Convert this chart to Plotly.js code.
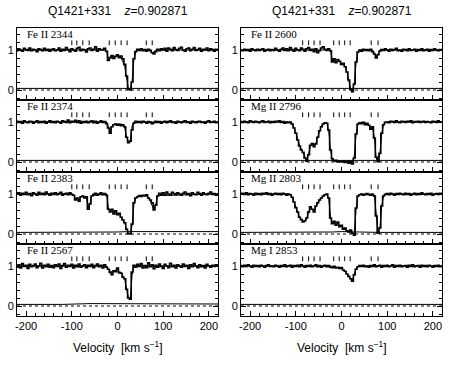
<!DOCTYPE html>
<html><head><meta charset="utf-8">
<script src="https://cdn.plot.ly/plotly-3.0.1.min.js"></script>
<style>body{margin:0;background:#fff}#chart{width:462px;height:373px}</style>
</head><body><div id="chart"></div>
<script>
// ---------------- data ----------------
const velocity = [
-220,-216,-212,-208,-204,-200,-196,-192,-188,-184,
-180,-176,-172,-168,-164,-160,-156,-152,-148,-144,
-140,-136,-132,-128,-124,-120,-116,-112,-108,-104,
-100,-96,-92,-88,-84,-80,-76,-72,-68,-64,
-60,-56,-52,-48,-44,-40,-36,-32,-28,-24,
-20,-16,-12,-8,-4,0,4,8,12,16,
20,24,28,32,36,40,44,48,52,56,
60,64,68,72,76,80,84,88,92,96,
100,104,108,112,116,120,124,128,132,136,
140,144,148,152,156,160,164,168,172,176,
180,184,188,192,196,200,204,208,212,216,220];

const panelLabels = ["Fe II 2344","Fe II 2374","Fe II 2383","Fe II 2567","Fe II 2600","Mg II 2796","Mg II 2803","Mg I 2853"];
const columnTitle = "Q1421+331";
const redshift = "0.902871";
const componentVelLeft = [-100,-89,-76,-62,-18,-5,8,21,63,76];
const componentVelRight = [-85,-72,-60,-47,-17,-5,7,19,65,80];
const xTickVals = [-200,-100,0,100,200];
const yTickVals = [0,1];

const fluxFeII2344 = [
0.98,1.03,1.00,0.97,1.04,1.01,0.99,1.05,0.98,1.02,
1.00,0.96,1.03,1.01,0.98,1.04,0.99,1.02,0.97,1.01,
1.03,0.98,1.00,1.05,0.97,1.02,0.99,1.06,1.01,0.96,
1.03,1.00,0.97,1.04,1.07,0.98,1.02,1.00,0.95,1.03,
1.05,0.99,1.02,1.08,0.97,1.03,1.00,1.01,1.04,0.97,
0.74,0.80,0.86,0.79,0.84,0.88,0.81,0.85,0.78,0.64,
0.35,0.02,0.00,0.20,0.78,0.96,1.02,0.99,1.03,0.98,
1.01,0.97,1.02,0.99,0.93,0.90,0.96,1.02,0.98,1.03,
1.00,1.04,0.97,1.05,1.02,0.98,1.06,1.01,0.99,1.04,
1.07,1.00,0.97,1.03,1.05,0.98,1.02,1.06,0.99,1.01,
1.04,0.97,1.02,1.00,1.05,0.98,1.03,1.01,0.97,1.02,1.00];
const fluxFeII2374 = [
1.02,0.99,1.01,0.97,1.03,1.00,0.98,1.02,1.01,0.97,
1.00,1.03,0.98,1.01,0.99,1.02,0.97,1.00,1.03,0.99,
1.01,0.98,1.02,1.00,0.97,1.03,1.01,0.99,1.05,0.98,
1.02,1.00,1.04,0.99,1.03,0.97,1.01,0.99,1.02,0.98,
1.01,1.03,0.98,1.02,0.97,1.00,1.03,0.99,1.01,0.96,
0.85,0.72,0.88,0.93,0.95,0.92,0.94,0.91,0.93,0.88,
0.62,0.48,0.52,0.80,0.97,1.02,0.99,1.01,0.98,1.02,
1.00,0.97,1.01,0.99,0.96,0.98,1.02,0.99,1.01,0.97,
1.00,1.02,0.98,1.01,1.03,0.99,1.00,0.97,1.02,1.00,
0.98,1.01,1.03,0.99,1.00,0.97,1.02,1.00,0.98,1.01,
1.02,0.99,1.00,0.97,1.01,1.03,0.99,1.00,1.02,0.98,1.00];
const fluxFeII2383 = [
1.00,1.03,0.97,1.02,0.99,1.04,0.98,1.01,0.96,1.03,
1.00,0.97,1.04,0.99,1.02,0.98,1.05,1.00,0.97,1.02,
0.99,1.03,0.98,1.01,1.04,0.97,1.00,1.02,0.98,1.03,
0.99,0.97,0.85,0.90,0.82,0.93,0.95,0.90,0.93,0.62,
0.75,0.95,0.99,1.02,0.97,1.00,1.03,0.98,1.01,0.97,
0.62,0.55,0.62,0.50,0.58,0.48,0.52,0.42,0.35,0.28,
0.12,0.01,0.00,0.25,0.78,0.90,0.93,0.96,0.94,0.97,
0.95,0.98,0.90,0.85,0.78,0.60,0.72,0.95,1.02,0.99,
1.03,0.98,1.05,1.00,0.97,1.04,1.01,0.98,1.03,1.00,
0.97,1.02,1.05,0.99,1.01,0.96,1.03,1.00,0.98,1.04,
1.01,0.97,1.03,1.00,0.98,1.02,1.05,0.99,1.01,0.97,1.00];
const fluxFeII2567 = [
0.97,1.03,0.95,1.06,0.99,1.02,0.94,1.04,0.98,1.01,
1.05,0.96,1.00,1.07,0.95,1.02,0.98,1.04,0.97,1.01,
0.96,1.03,0.99,1.05,0.94,1.01,1.06,0.97,1.02,0.99,
1.04,0.95,1.02,0.98,1.05,0.97,1.00,1.03,0.96,1.02,
0.99,1.04,0.96,1.01,1.05,0.98,1.02,0.95,1.03,0.97,
0.92,0.84,0.78,0.88,0.86,0.95,0.83,0.82,0.72,0.68,
0.42,0.20,0.17,0.85,1.02,0.97,1.04,0.99,1.06,0.95,
1.01,0.96,1.08,0.98,1.03,0.93,1.02,0.97,1.05,0.99,
0.94,1.04,1.00,0.96,1.07,0.98,1.02,0.95,1.03,1.00,
0.97,1.05,0.99,1.02,0.94,1.03,0.98,1.06,1.00,0.96,
1.03,0.98,1.01,0.95,1.04,1.00,0.97,1.02,0.99,1.03,1.00];
const fluxFeII2600 = [
1.00,0.98,1.02,0.99,1.01,0.97,1.03,1.00,0.98,1.02,
0.99,1.01,1.03,0.97,1.00,1.02,0.98,1.01,0.99,1.04,
1.00,0.97,1.02,1.05,0.99,1.03,0.98,1.06,1.01,0.97,
1.04,1.00,0.98,1.05,1.02,0.97,1.03,1.06,0.99,1.02,
0.96,1.03,0.93,0.98,1.05,1.08,1.02,0.99,1.03,0.98,
0.70,0.78,0.68,0.76,0.72,0.64,0.67,0.58,0.45,0.25,
0.02,-0.04,0.15,0.70,0.95,1.00,0.97,1.02,0.99,1.01,
0.98,1.02,0.96,0.90,0.80,0.88,0.97,1.01,0.99,1.03,
1.00,0.97,1.02,0.99,1.01,1.04,0.98,1.00,0.97,1.02,
1.01,0.98,1.03,0.99,1.00,1.02,0.97,1.01,0.99,1.03,
0.98,1.00,1.02,0.97,1.01,0.99,1.03,1.00,0.98,1.01,1.00];
const fluxMgII2796 = [
1.01,0.99,1.02,1.00,0.98,1.03,1.01,0.99,1.02,1.00,
0.98,1.01,1.03,0.99,1.00,1.02,0.98,1.01,0.99,1.02,
1.00,1.03,0.99,1.01,0.97,1.00,0.98,1.00,0.95,0.85,
0.72,0.55,0.40,0.30,0.24,0.10,0.02,0.18,0.42,0.46,
0.38,0.45,0.62,0.78,0.88,0.95,0.98,0.97,0.80,0.30,
0.08,0.03,0.04,0.01,0.02,0.00,0.03,-0.01,0.02,-0.03,
0.01,-0.05,0.10,0.70,0.95,0.98,0.96,0.99,0.93,0.97,
0.92,0.82,0.88,0.60,0.12,0.01,0.22,0.72,0.93,0.99,
1.00,0.98,1.02,1.01,0.99,1.03,1.00,0.98,1.02,1.01,
0.99,1.02,1.00,1.03,0.98,1.01,1.00,1.02,0.99,1.01,
1.02,0.99,1.01,1.00,0.98,1.02,1.01,0.99,1.03,1.00,1.00];
const fluxMgII2803 = [
1.00,1.02,0.99,1.03,0.98,1.01,1.00,0.97,1.02,0.99,
1.01,0.98,1.02,1.00,1.03,0.99,1.01,0.97,1.00,1.02,
0.99,1.01,0.98,1.02,1.00,0.97,1.00,0.98,0.92,0.80,
0.66,0.55,0.42,0.36,0.30,0.33,0.40,0.55,0.68,0.62,
0.55,0.70,0.78,0.85,0.90,0.95,0.98,1.00,0.90,0.40,
0.26,0.32,0.22,0.30,0.18,0.22,0.12,0.15,0.08,0.05,
0.10,0.02,-0.03,0.65,0.95,0.98,1.00,0.97,0.99,1.01,
0.98,0.97,0.99,0.95,0.45,0.02,0.15,0.70,0.95,0.99,
1.01,0.98,1.02,1.00,0.97,1.01,0.99,1.02,1.00,0.98,
1.02,0.99,1.01,0.97,1.00,1.02,0.98,1.01,0.99,1.03,
1.00,0.98,1.01,0.99,1.02,0.97,1.00,1.01,0.99,1.02,1.00];
const fluxMgI2853 = [
1.01,0.98,1.02,0.99,1.03,1.00,0.97,1.02,0.99,1.01,
0.98,1.02,1.00,0.97,1.01,1.03,0.99,1.00,0.98,1.02,
1.00,0.97,1.01,0.99,1.03,0.98,1.00,1.02,0.97,1.01,
0.99,1.02,0.98,1.03,1.00,0.97,1.01,0.99,1.02,0.98,
1.00,1.03,0.98,1.01,0.97,1.00,1.02,0.98,1.01,0.97,
0.96,0.99,0.95,0.97,0.94,0.96,0.90,0.87,0.80,0.74,
0.68,0.62,0.78,0.92,0.98,1.01,0.99,1.02,0.98,1.00,
0.97,1.01,0.99,1.03,0.98,1.00,1.02,0.97,1.01,0.99,
1.02,0.98,1.00,1.03,0.97,1.01,0.99,1.02,0.98,1.00,
1.01,0.97,1.02,0.99,1.03,0.98,1.00,1.01,0.97,1.02,
0.99,1.01,0.98,1.02,1.00,0.97,1.01,0.99,1.02,0.98,1.00];

// model fits (velocity, normalized flux)
const modelFeII2344V = [-220,-28,-24,-20,-16,-12,-8,-4,0,4,8,12,16,20,24,28,32,36,40,44,68,72,76,80,84,220];
const modelFeII2344F = [1,1,0.96,0.80,0.83,0.85,0.83,0.85,0.86,0.83,0.80,0.70,0.58,0.30,0.03,0.01,0.22,0.78,0.96,1,1,0.97,0.92,0.96,1,1];
const modelFeII2374V = [-220,-24,-20,-16,-12,-8,12,16,20,24,28,32,36,220];
const modelFeII2374F = [1,1,0.88,0.74,0.90,0.95,0.94,0.85,0.62,0.48,0.55,0.90,1,1];
const modelFeII2383V = [-220,-100,-96,-92,-88,-84,-80,-76,-72,-68,-64,-60,-56,-24,-20,-16,-12,-8,-4,0,4,8,12,16,20,24,28,32,36,40,48,64,68,72,76,80,84,88,220];
const modelFeII2383F = [1,1,0.97,0.87,0.90,0.85,0.93,0.95,0.92,0.90,0.66,0.78,0.96,1,0.65,0.58,0.60,0.53,0.55,0.50,0.50,0.43,0.35,0.27,0.12,0.02,0.01,0.22,0.75,0.90,0.96,0.96,0.90,0.82,0.70,0.62,0.75,0.96,1];
const modelFeII2567V = [-220,-24,-20,-16,-12,-8,-4,0,4,8,12,16,20,24,28,32,36,220];
const modelFeII2567F = [1,1,0.92,0.87,0.84,0.88,0.90,0.90,0.86,0.84,0.75,0.66,0.42,0.22,0.18,0.78,1,1];
const modelFeII2600V = [-220,-24,-20,-16,-12,-8,-4,0,4,8,12,16,20,24,28,32,36,40,68,72,76,80,84,220];
const modelFeII2600F = [1,1,0.72,0.74,0.70,0.72,0.70,0.66,0.65,0.58,0.45,0.25,0.02,0.0,0.15,0.70,0.95,1,1,0.92,0.82,0.90,1,1];
const modelMgII2796V = [-220,-116,-108,-100,-92,-84,-80,-76,-72,-68,-64,-60,-56,-52,-48,-44,-40,-36,-32,-28,-24,-20,-16,24,28,32,36,40,48,56,60,64,68,72,76,80,84,88,92,96,100,220];
const modelMgII2796F = [1,1,0.96,0.74,0.42,0.22,0.10,0.04,0.20,0.40,0.45,0.42,0.48,0.62,0.78,0.90,0.96,0.99,0.96,0.78,0.30,0.05,0.01,0.01,0.15,0.70,0.95,0.99,0.99,0.96,0.92,0.84,0.86,0.60,0.10,0.01,0.20,0.70,0.94,0.99,1,1];
const modelMgII2803V = [-220,-116,-112,-108,-104,-100,-96,-92,-88,-84,-80,-76,-72,-68,-64,-60,-56,-52,-48,-44,-40,-36,-32,-28,-24,-20,-16,-12,-8,-4,0,4,8,12,16,20,24,28,32,36,40,68,72,76,80,84,88,92,96,220];
const modelMgII2803F = [1,1,0.98,0.92,0.80,0.66,0.54,0.43,0.36,0.31,0.33,0.40,0.55,0.66,0.62,0.57,0.68,0.78,0.85,0.91,0.95,0.98,0.99,0.88,0.42,0.28,0.30,0.24,0.28,0.20,0.20,0.13,0.13,0.08,0.05,0.06,0.02,0.00,0.62,0.95,0.99,1,0.97,0.45,0.03,0.15,0.70,0.95,0.99,1];
const modelMgI2853V = [-220,-24,-16,-8,0,4,8,12,16,20,24,28,32,36,220];
const modelMgI2853F = [1,1,0.97,0.96,0.94,0.90,0.86,0.80,0.74,0.67,0.63,0.80,0.93,1,1];

// error spectra
const errVel = [-220,-120,-60,-20,0,20,40,80,120,220];
const errFeII2344 = [0.04,0.04,0.04,0.05,0.05,0.05,0.05,0.04,0.04,0.04];
const errFeII2374 = [0.04,0.04,0.04,0.04,0.04,0.05,0.04,0.04,0.04,0.04];
const errFeII2383 = [0.04,0.04,0.04,0.05,0.05,0.06,0.06,0.06,0.06,0.06];
const errFeII2567 = [0.04,0.04,0.06,0.06,0.06,0.05,0.05,0.05,0.05,0.05];
const errFeII2600 = [0.04,0.04,0.04,0.05,0.05,0.05,0.04,0.04,0.04,0.04];
const errMgII2796 = [0.04,0.04,0.05,0.05,0.05,0.05,0.04,0.04,0.04,0.04];
const errMgII2803 = [0.04,0.04,0.05,0.05,0.06,0.06,0.05,0.04,0.04,0.04];
const errMgI2853 = [0.04,0.04,0.04,0.04,0.04,0.04,0.04,0.04,0.04,0.04];

const panels = [
 {flux: fluxFeII2344, mV: modelFeII2344V, mF: modelFeII2344F, err: errFeII2344},
 {flux: fluxFeII2374, mV: modelFeII2374V, mF: modelFeII2374F, err: errFeII2374},
 {flux: fluxFeII2383, mV: modelFeII2383V, mF: modelFeII2383F, err: errFeII2383},
 {flux: fluxFeII2567, mV: modelFeII2567V, mF: modelFeII2567F, err: errFeII2567},
 {flux: fluxFeII2600, mV: modelFeII2600V, mF: modelFeII2600F, err: errFeII2600},
 {flux: fluxMgII2796, mV: modelMgII2796V, mF: modelMgII2796F, err: errMgII2796},
 {flux: fluxMgII2803, mV: modelMgII2803V, mF: modelMgII2803F, err: errMgII2803},
 {flux: fluxMgI2853, mV: modelMgI2853V, mF: modelMgI2853F, err: errMgI2853}
];

// ---------------- layout geometry (pixels) ----------------
const W = 462, H = 373;
const colPx = [[17,218],[241,442]];
const rowTop = 28, rowH = 72;
const yRange = [-0.25, 1.55];
const xRange = [-220, 220];
const tickLo = 1.12, tickHi = 1.24;
const FONT = "Liberation Sans, Arial, sans-serif";

const traces = [];
const layout = {
  width: W, height: H, margin: {l:0,r:0,t:0,b:0},
  paper_bgcolor: "#fff", plot_bgcolor: "#fff",
  showlegend: false, annotations: [],
  font: {family: FONT, size: 11, color: "#000"}
};

panels.forEach((p, i) => {
  const col = Math.floor(i / 4), row = i % 4;
  const ax = i === 0 ? "" : String(i + 1);
  const xa = "x" + ax, ya = "y" + ax;
  const top = rowTop + row * rowH, bot = top + rowH;
  layout["xaxis" + ax] = {
    domain: [colPx[col][0] / W, colPx[col][1] / W],
    range: xRange, anchor: ya,
    showline: true, linecolor: "#000", linewidth: 1, mirror: true,
    showgrid: false, zeroline: false,
    ticks: "inside", ticklen: 5, tickwidth: 1, tickcolor: "#000",
    tickvals: xTickVals, ticktext: xTickVals.map(String),
    showticklabels: row === 3,
    tickfont: {family: FONT, size: 11, color: "#000"},
    minor: {dtick: 20, ticks: "inside", ticklen: 3, tickwidth: 1, tickcolor: "#000", showgrid: false}
  };
  layout["yaxis" + ax] = {
    domain: [1 - bot / H, 1 - top / H],
    range: yRange, anchor: xa,
    showline: true, linecolor: "#000", linewidth: 1, mirror: "allticks",
    showgrid: false, zeroline: false,
    ticks: "inside", ticklen: 5, tickwidth: 1, tickcolor: "#000",
    tickvals: yTickVals, ticktext: yTickVals.map(String),
    tickfont: {family: FONT, size: 11, color: "#000"},
    minor: {dtick: 0.2, ticks: "inside", ticklen: 3, tickwidth: 1, tickcolor: "#000", showgrid: false}
  };
  traces.push({x: xRange, y: [0, 0], xaxis: xa, yaxis: ya, mode: "lines",
    line: {color: "#000", width: 1, dash: "dot"}, hoverinfo: "skip"});
  traces.push({x: errVel, y: p.err, xaxis: xa, yaxis: ya, mode: "lines",
    line: {color: "#000", width: 1}, hoverinfo: "skip"});
  traces.push({x: p.mV, y: p.mF, xaxis: xa, yaxis: ya, mode: "lines",
    line: {color: "#000", width: 1}, hoverinfo: "skip"});
  traces.push({x: velocity, y: p.flux, xaxis: xa, yaxis: ya, mode: "lines",
    line: {color: "#000", width: 1.6, shape: "hvh"}, hoverinfo: "skip"});
  const comps = col === 0 ? componentVelLeft : componentVelRight;
  const tx = [], ty = [];
  comps.forEach(v => { tx.push(v, v, null); ty.push(tickLo, tickHi, null); });
  traces.push({x: tx, y: ty, xaxis: xa, yaxis: ya, mode: "lines",
    line: {color: "#000", width: 1}, hoverinfo: "skip"});
  const parts = panelLabels[i].split(" ");
  layout.annotations.push({
    xref: "paper", yref: "paper",
    x: (colPx[col][0] + 8) / W, y: 1 - (top - 2) / H,
    xanchor: "left", yanchor: "top", showarrow: false,
    text: parts[0] + "\u00a0" + parts[1] + "\u00a0" + parts[2],
    font: {family: "Liberation Serif, DejaVu Serif, serif", size: 11, color: "#000"}
  });
});

[0, 1].forEach(col => {
  const cx = (colPx[col][0] + colPx[col][1]) / 2 / W;
  layout.annotations.push({
    xref: "paper", yref: "paper", x: cx, y: 1 - 11 / H,
    xanchor: "center", yanchor: "middle", showarrow: false,
    text: columnTitle + "\u00a0\u00a0\u00a0\u00a0<i>z</i>=" + redshift,
    font: {family: FONT, size: 12, color: "#000"}
  });
  layout.annotations.push({
    xref: "paper", yref: "paper", x: cx, y: 1 - 347 / H,
    xanchor: "center", yanchor: "middle", showarrow: false,
    text: "Velocity\u00a0\u00a0[km\u00a0s<sup>\u22121</sup>]",
    font: {family: FONT, size: 12, color: "#000"}
  });
});

Plotly.newPlot("chart", traces, layout, {displayModeBar: false, staticPlot: true});
</script>
</body></html>
